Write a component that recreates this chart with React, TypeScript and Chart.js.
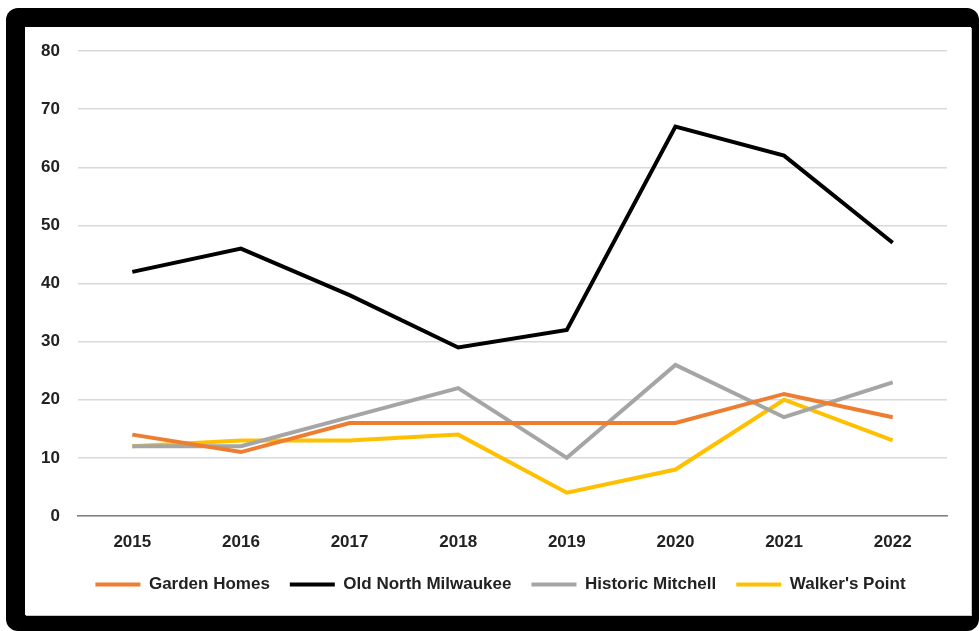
import React, { useEffect, useRef } from "react";
import { Chart, registerables } from "chart.js";

Chart.register(...registerables);

const years = ["2015", "2016", "2017", "2018", "2019", "2020", "2021", "2022"];
const gardenHomes = [14, 11, 16, 16, 16, 16, 21, 17];
const oldNorthMilwaukee = [42, 46, 38, 29, 32, 67, 62, 47];
const historicMitchell = [12, 12, 17, 22, 10, 26, 17, 23];
const walkersPoint = [12, 13, 13, 14, 4, 8, 20, 13];
const yTicks = [0, 10, 20, 30, 40, 50, 60, 70, 80];

const FONT = "'Liberation Sans', Arial, sans-serif";

const legendShift = {
  id: "legendShift",
  afterLayout(chart: any) {
    const lg = chart.legend;
    if (lg) {
      lg.left += 7;
      lg.right += 7;
    }
  },
};

export default function App() {
  const ref = useRef<HTMLCanvasElement | null>(null);

  useEffect(() => {
    document.body.style.margin = "0";
    if (!ref.current) return;
    const mk = (label: string, data: number[], color: string) => ({
      label,
      data,
      borderColor: color,
      backgroundColor: color,
      borderWidth: 4,
      pointRadius: 0,
      pointHoverRadius: 0,
      tension: 0,
      pointStyle: "line" as const,
    });
    const chart = new Chart(ref.current, {
      type: "line",
      data: {
        labels: years,
        datasets: [
          mk("Garden Homes", gardenHomes, "#ED7D31"),
          mk("Old North Milwaukee", oldNorthMilwaukee, "#000000"),
          mk("Historic Mitchell", historicMitchell, "#A5A5A5"),
          mk("Walker's Point", walkersPoint, "#FFC000"),
        ],
      },
      plugins: [legendShift],
      options: {
        animation: false,
        responsive: false,
        maintainAspectRatio: false,
        layout: { padding: { left: 15, right: 24, top: 24, bottom: 12 } },
        plugins: {
          tooltip: { enabled: false },
          legend: {
            position: "bottom",
            labels: {
              usePointStyle: true,
              pointStyleWidth: 45,
              boxHeight: 4,
              color: "#222",
              padding: 20,
              font: { family: FONT, size: 17, weight: "bold" },
            },
          },
        },
        scales: {
          x: {
            offset: true,
            afterFit: (scale: any) => {
              scale.height = 40;
            },
            grid: { display: false, drawTicks: false },
            border: { display: true, color: "#7f7f7f", width: 1.5 },
            ticks: {
              color: "#222",
              padding: 16,
              font: { family: FONT, size: 17, weight: "bold" },
            },
          },
          y: {
            min: 0,
            max: 80,
            afterBuildTicks: (scale: any) => {
              scale.ticks = yTicks.map((v) => ({ value: v }));
            },
            afterFit: (scale: any) => {
              scale.width = 38;
              scale.paddingTop = 0;
              scale.paddingBottom = 0;
            },
            grid: { color: "#d9d9d9", lineWidth: 1.5, drawTicks: false },
            border: { display: false },
            ticks: {
              color: "#222",
              padding: 18,
              font: { family: FONT, size: 17, weight: "bold" },
            },
          },
        },
      },
    });
    return () => chart.destroy();
  }, []);

  return (
    <div style={{ position: "fixed", left: 0, top: 0, width: 979, height: 631, background: "#fff" }}>
      <div
        style={{
          position: "absolute",
          left: 6,
          top: 8,
          width: 973,
          height: 623,
          background: "#000",
          borderRadius: 12,
        }}
      />
      <div
        style={{
          position: "absolute",
          left: 25,
          top: 27,
          width: 946,
          height: 588,
          background: "#fff",
          boxShadow: "1px 1px 0 #c8c8c8",
        }}
      >
        <canvas ref={ref} width={946} height={588} style={{ display: "block" }} />
      </div>
    </div>
  );
}
